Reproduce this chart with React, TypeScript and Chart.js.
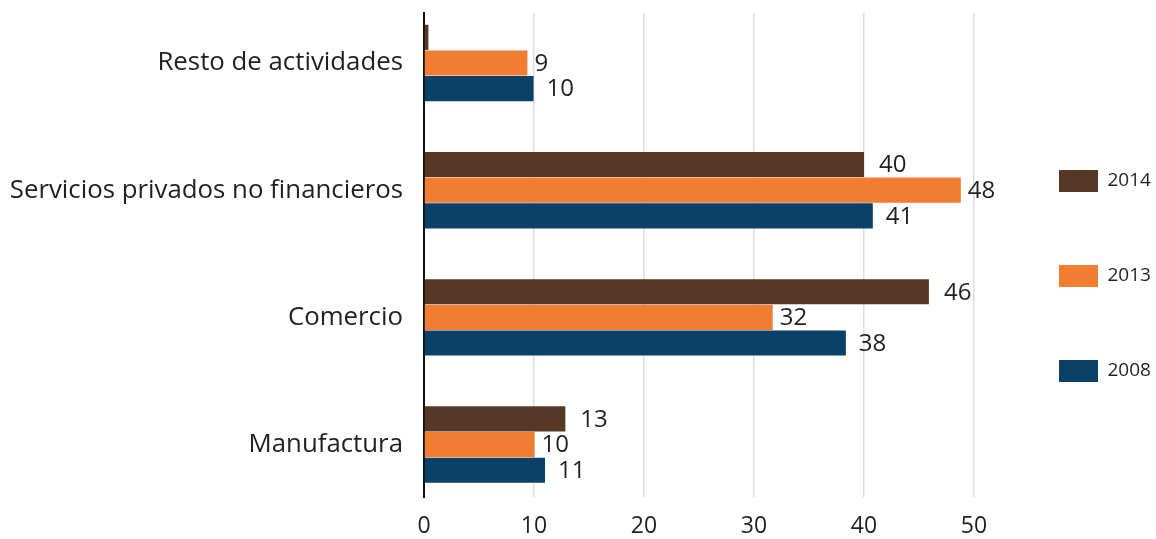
import { useEffect, useRef } from 'react';
import { Chart, registerables } from 'chart.js';

Chart.register(...registerables);

// ---- Data ----
const categories = ['Resto de actividades', 'Servicios privados no financieros', 'Comercio', 'Manufactura'];
const seriesNames = ['2014', '2013', '2008'];
const values2014 = [0.4, 40.0, 45.9, 12.85];
const values2013 = [9.4, 48.8, 31.7, 10.05];
const values2008 = [9.96, 40.8, 38.35, 11.0];
const labels2014: (number | null)[] = [null, 40, 46, 13];
const labels2013: (number | null)[] = [9, 48, 32, 10];
const labels2008: (number | null)[] = [10, 41, 38, 11];
const xTickValues = [0, 10, 20, 30, 40, 50];

// ---- Styles ----
const FONT = "'Open Sans', 'Noto Sans', sans-serif";
const TEXT = '#231f20';
const COLORS = ['#553926', '#f07d32', '#0b4068'];
const LABEL_OFFSETS = [15, 7, 13];

const valueLabelPlugin = {
  id: 'valueLabels',
  afterDatasetsDraw(chart: any) {
    const ctx = chart.ctx;
    ctx.save();
    ctx.font = `24px ${FONT}`;
    ctx.fillStyle = TEXT;
    ctx.textAlign = 'left';
    ctx.textBaseline = 'middle';
    chart.data.datasets.forEach((ds: any, di: number) => {
      const meta = chart.getDatasetMeta(di);
      meta.data.forEach((el: any, i: number) => {
        const v = ds.valueLabels[i];
        if (v == null) return;
        ctx.fillText(String(v), el.x + LABEL_OFFSETS[di], el.y + 1);
      });
    });
    ctx.restore();
  },
};

export default function App() {
  const ref = useRef<HTMLCanvasElement>(null);

  useEffect(() => {
    if (!ref.current) return;
    const seriesValues = [values2014, values2013, values2008];
    const seriesLabels = [labels2014, labels2013, labels2008];
    const chart = new Chart(ref.current, {
      type: 'bar',
      data: {
        labels: categories.map((_, i) => i),
        datasets: seriesNames.map((name, k) => ({
          label: name,
          data: seriesValues[k],
          backgroundColor: COLORS[k],
          borderWidth: 0,
          categoryPercentage: 0.605,
          barPercentage: 0.98,
          valueLabels: seriesLabels[k],
        })) as any,
      },
      options: {
        indexAxis: 'y',
        animation: false,
        responsive: true,
        maintainAspectRatio: false,
        layout: { padding: { top: 13, right: 0, left: 0, bottom: 0 } },
        plugins: {
          tooltip: { enabled: false },
          legend: {
            position: 'right',
            align: 'center',
            maxWidth: 170,
            labels: {
              boxWidth: 39,
              boxHeight: 22,
              padding: 73,
              color: TEXT,
              font: { family: FONT, size: 19 },
            },
          },
        },
        scales: {
          x: {
            type: 'linear',
            min: 0,
            max: 51.09,
            afterBuildTicks: (scale: any) => {
              scale.ticks = xTickValues.map((v) => ({ value: v }));
            },
            afterFit: (scale: any) => {
              scale.height = 42;
              scale.paddingLeft = 0;
              scale.paddingRight = 0;
            },
            ticks: {
              color: TEXT,
              font: { family: FONT, size: 23 },
              padding: 16,
              callback: (v: any) => String(v),
            },
            grid: {
              color: (c: any) => (c.tick && c.tick.value === 0 ? 'rgba(0,0,0,0)' : '#dedede'),
              lineWidth: 1.5,
              drawTicks: false,
            },
            border: { display: false },
          },
          y: {
            type: 'linear',
            reverse: true,
            offset: false,
            min: -0.393,
            max: 3.412,
            afterBuildTicks: (scale: any) => {
              scale.ticks = categories.map((_, i) => ({ value: i }));
            },
            afterFit: (scale: any) => {
              scale.width = 424;
              scale.paddingTop = 0;
              scale.paddingBottom = 0;
            },
            ticks: {
              color: TEXT,
              font: { family: FONT, size: 25.8 },
              padding: 21,
              callback: (v: any) => categories[v as number] ?? '',
            },
            grid: { display: false, drawTicks: false, offset: false },
            border: { display: true, color: '#111111', width: 2 },
          },
        },
      } as any,
      plugins: [valueLabelPlugin],
    });
    return () => chart.destroy();
  }, []);

  return (
    <div style={{ position: 'absolute', left: 0, top: 0, width: 1156, height: 539 }}>
      <canvas ref={ref} />
    </div>
  );
}
